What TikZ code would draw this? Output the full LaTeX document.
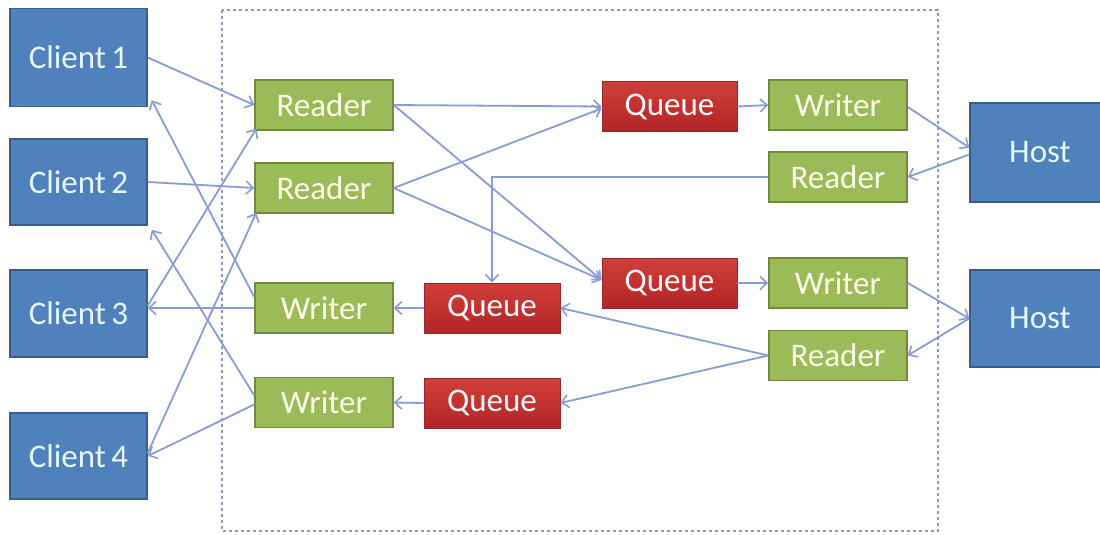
\documentclass[tikz,border=0pt]{standalone}
\usepackage{fontspec}
\setmainfont{Carlito}
\usetikzlibrary{arrows.meta,calc}
\definecolor{cblue}{RGB}{79,129,189}
\definecolor{cblueb}{RGB}{56,93,138}
\definecolor{cgreen}{RGB}{155,187,89}
\definecolor{cgreenb}{RGB}{113,137,63}
\definecolor{credt}{RGB}{208,62,58}
\definecolor{credb}{RGB}{178,38,38}
\definecolor{credbd}{RGB}{150,40,40}
\definecolor{lnk}{RGB}{135,155,212}
\definecolor{dash}{RGB}{140,150,190}
\tikzset{
  every node/.style={font=\fontsize{33}{38}\selectfont, text=white, inner sep=0pt},
  bluebox/.style={draw=cblueb, line width=1.5pt, fill=cblue, minimum width=137pt, text=white!90!cyan},
  greenbox/.style={draw=cgreenb, line width=1.5pt, fill=cgreen, minimum width=138pt, minimum height=50pt, text=white!92!yellow},
  redbox/.style={draw=credbd, line width=0.8pt, top color=credt, bottom color=credb, minimum width=136pt, minimum height=50pt, text=white!92!pink},
  link/.style={draw=lnk, line width=1.8pt, -{Straight Barb[length=7pt,width=13pt,line width=1.6pt]}},
  frame/.style={draw=dash, line width=1.5pt, dash pattern=on 3pt off 3pt}
}
\begin{document}
\begin{tikzpicture}[x=1pt,y=-1pt]
\useasboundingbox (0,0) rectangle (1100,535);
% dashed frame
\draw[frame] (222,10) rectangle (938,531);
% clients
\node[bluebox, minimum height=98pt] (c1) at (78.5,57.5) {Client\,1};
\node[bluebox, minimum height=86pt] (c2) at (78.5,182) {Client\,2};
\node[bluebox, minimum height=87pt] (c3) at (78.5,313.5) {Client\,3};
\node[bluebox, minimum height=86pt] (c4) at (78.5,456) {Client\,4};
% left readers / writers
\node[greenbox] (r1) at (324,105) {Reader};
\node[greenbox] (r2) at (324,188) {Reader};
\node[greenbox] (w1) at (324,308) {Writer};
\node[greenbox] (w2) at (324,402.5) {Writer};
% queues
\node[redbox, minimum width=135pt] (q1) at (669.5,106.5) {Queue};
\node[redbox, minimum width=135pt] (q2) at (669.5,283) {Queue};
\node[redbox] (q3) at (492,308) {Queue};
\node[redbox] (q4) at (492,403) {Queue};
% right writers / readers
\node[greenbox] (wr1) at (838,105) {Writer};
\node[greenbox] (rr1) at (838,177) {Reader};
\node[greenbox] (wr2) at (838,283) {Writer};
\node[greenbox] (rr2) at (838,355.5) {Reader};
% hosts
\node[bluebox, minimum width=140pt, minimum height=99pt] (h1) at (1040,152.5) {Host};
\node[bluebox, minimum width=140pt, minimum height=97pt] (h2) at (1040,318.5) {Host};
% clients -> readers
\draw[link] (c1.east) -- (r1.west);
\draw[link] (c2.east) -- (r2.west);
\draw[link] ([yshift=8pt]c3.east) -- ([xshift=2pt,yshift=2pt]r1.south west);
\draw[link] ([yshift=3pt]c4.east) -- ([xshift=2pt,yshift=1pt]r2.south west);
% writers -> clients
\draw[link] ([yshift=11pt]w1.west) -- ([xshift=4pt,yshift=7pt]c1.south east);
\draw[link] ([yshift=7pt]w2.west) -- ([xshift=4pt,yshift=-4pt]c2.south east);
\draw[link] ([yshift=-2pt]w2.west) -- (c4.east);
\draw[link] (w1.west) -- (w1.west -| c3.east);
% readers -> queues
\draw[link] (r1.east) -- (q1.west);
\draw[link] (r1.east) -- ([yshift=3pt]q2.west);
\draw[link] (r2.east) -- ([yshift=-2pt]q1.west);
\draw[link] (r2.east) -- ([yshift=3pt]q2.west);
\draw[link] (rr1.west) -| (q3.north);
\draw[link] (rr2.west) -- (q3.east);
\draw[link] (rr2.west) -- (q4.east);
% queues -> writers
\draw[link] (q3.west) -- (w1.east);
\draw[link] (q4.west) -- (w2.east);
\draw[link] (q1.east) -- (wr1.west);
\draw[link] (q2.east) -- (wr2.west);
% host links
\draw[link] ([yshift=-2pt]wr1.east) -- ([yshift=5pt]h1.west);
\draw[link] ([yshift=-2pt]h1.west) -- (rr1.east);
\draw[link] (wr2.east) -- (h2.west);
\draw[link] (h2.west) -- (rr2.east);
\end{tikzpicture}
\end{document}
